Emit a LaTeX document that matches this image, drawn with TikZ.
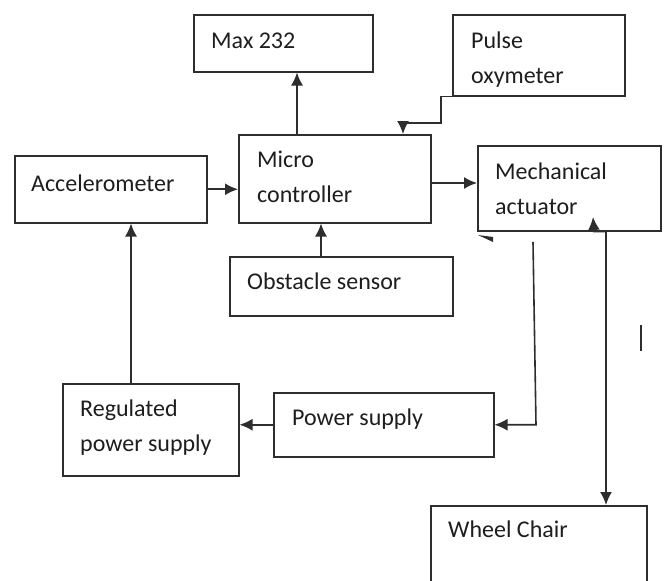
\documentclass[tikz,border=0pt]{standalone}
\usepackage{fontspec}
\setmainfont{Carlito}
\usetikzlibrary{arrows.meta}
\definecolor{edge}{HTML}{2E2E2E}
\definecolor{ink}{HTML}{1E1E1E}
\tikzset{
  box/.style={draw=edge, line width=1.5pt, rectangle, inner sep=0pt},
  lbl/.style={anchor=base west, inner sep=0pt, text=ink, align=left,
     font=\fontsize{24}{35}\selectfont},
  arr/.style={draw=edge, line width=1.6pt, -{Latex[length=13pt,width=12pt]}},
  ln/.style={draw=edge, line width=1.6pt}
}
\begin{document}
\begin{tikzpicture}[x=1pt,y=-1pt]
\clip (0,0) rectangle (667,581);
\fill[white] (0,0) rectangle (667,581);
% boxes
\node[box, anchor=north west, minimum width=179pt, minimum height=57pt] (max) at (193,14) {};
\node[box, anchor=north west, minimum width=172pt, minimum height=81pt] (pulse) at (452,14) {};
\node[box, anchor=north west, minimum width=192pt, minimum height=88pt] (micro) at (238,134) {};
\node[box, anchor=north west, minimum width=192pt, minimum height=67pt] (accel) at (14,155) {};
\node[box, anchor=north west, minimum width=183pt, minimum height=85pt] (mech) at (477,145) {};
\node[box, anchor=north west, minimum width=223pt, minimum height=59pt] (obst) at (229,256) {};
\node[box, anchor=north west, minimum width=176pt, minimum height=92pt] (reg) at (62,383) {};
\node[box, anchor=north west, minimum width=220pt, minimum height=64pt] (power) at (273,392) {};
\node[box, anchor=north west, minimum width=216pt, minimum height=100pt] (wheel) at (430,505) {};
% labels (multi-line: anchored at the last line's baseline)
\node[lbl] (tmax) at (211,48) {Max 232};
\node[lbl] (tpulse) at (471,83) {Pulse\\oxymeter};
\node[lbl] (tmicro) at (257,202) {Micro\\controller};
\node[lbl] (taccel) at (31,191) {Accelerometer};
\node[lbl] (tmech) at (495,214) {Mechanical\\actuator};
\node[lbl] (tobst) at (247,289) {Obstacle sensor};
\node[lbl] (treg) at (80,451) {Regulated\\power supply};
\node[lbl] (tpower) at (292,425) {Power supply};
\node[lbl] (twheel) at (448,537) {Wheel Chair};
% connectors
\draw[arr] (297,0 |- micro.north) -- (297,0 |- max.south);
\draw[arr] (477,0 |- pulse.south) -- (441,0 |- pulse.south) -- (441,123) -- (403,123) -- (403,0 |- micro.north);
\draw[arr] (accel.east) -- (accel.east -| micro.west);
\draw[arr] (0,183 -| micro.east) -- (0,183 -| mech.west);
\draw[arr] (321,0 |- obst.north) -- (321,0 |- micro.south);
\draw[arr] (131,0 |- reg.north) -- (131,0 |- accel.south);
\draw[arr] (power.west) -- (power.west -| reg.east);
\draw[arr] (533,242) -- (536,0 |- power.east) -- (power.east);
\draw[{Latex[length=13pt,width=12pt]}-{Latex[length=13pt,width=12pt]}, draw=edge, line width=1.6pt]
  (593,217) -- (594,0 |- mech.south) -- (606,0 |- mech.south) -- (606,0 |- wheel.north);
% stray marks
\fill[edge] (478,235) -- (493,237) -- (493,242) -- cycle;
\draw[ln] (641,325) -- (641,351);
\end{tikzpicture}
\end{document}
